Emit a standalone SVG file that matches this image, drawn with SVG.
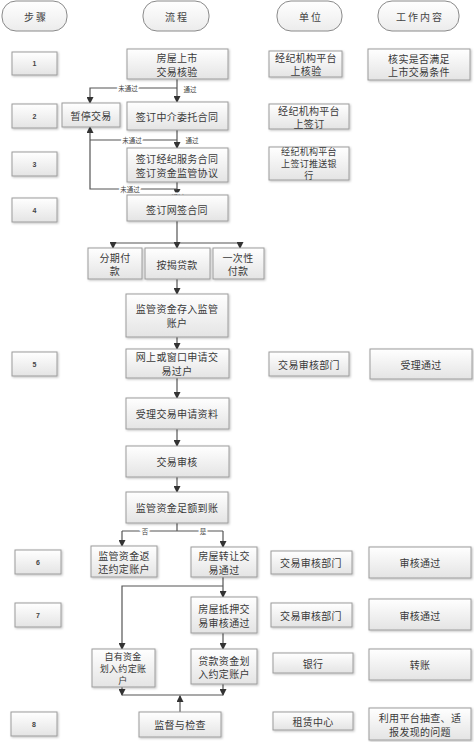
<svg xmlns="http://www.w3.org/2000/svg" width="474" height="742" viewBox="0 0 474 742">
<defs>
<linearGradient id="g" x1="0" y1="0" x2="0" y2="1"><stop offset="0" stop-color="#ffffff"/><stop offset="1" stop-color="#e4e4e4"/></linearGradient>
<linearGradient id="gp" x1="0" y1="0" x2="0" y2="1"><stop offset="0" stop-color="#ffffff"/><stop offset="1" stop-color="#ececec"/></linearGradient>
<filter id="sh" x="-10%" y="-10%" width="130%" height="140%"><feDropShadow dx="1" dy="1" stdDeviation="0.8" flood-color="#000" flood-opacity="0.25"/></filter>
<marker id="ar" markerWidth="7" markerHeight="7" refX="6" refY="3.5" orient="auto" markerUnits="userSpaceOnUse"><path d="M0,0 L7,3.5 L0,7 Z" fill="#333"/></marker>
</defs>
<style>
.b{fill:url(#g);stroke:#9c9c9c;stroke-width:1;filter:url(#sh)}
.p{fill:url(#gp);stroke:#8a8a8a;stroke-width:1}
.t{font-family:"Noto Sans CJK SC","Noto Sans",sans-serif;font-size:10px;letter-spacing:0.3px;fill:#3a3a3a;text-anchor:middle;dominant-baseline:central}
.t9{font-size:9px}
.s{font-family:"Liberation Sans",sans-serif;font-size:7px;font-weight:bold;fill:#444;text-anchor:middle;dominant-baseline:central}
.h{font-family:"Noto Sans CJK SC",sans-serif;font-size:10px;fill:#444;text-anchor:middle;dominant-baseline:central;letter-spacing:2px}
.l{font-family:"Noto Sans CJK SC",sans-serif;font-size:6.5px;fill:#444;text-anchor:middle;dominant-baseline:central;paint-order:stroke;stroke:#fff;stroke-width:3px}
.c{fill:none;stroke:#555;stroke-width:1.2}
.a{marker-end:url(#ar)}
</style>
<g id="headers">
<rect class="p" x="2" y="1" width="65" height="30" rx="14"/><text class="h" x="36" y="16">步骤</text>
<rect class="p" x="143" y="1" width="66" height="30" rx="14"/><text class="h" x="177" y="16">流程</text>
<rect class="p" x="277" y="1" width="65" height="30" rx="14"/><text class="h" x="311" y="16">单位</text>
<rect class="p" x="378" y="1" width="81" height="30" rx="14"/><text class="h" x="420" y="16">工作内容</text>
</g>
<g id="connectors">
<path class="c a" d="M177,79 V102"/>
<path class="c a" d="M177,88 H90 V103"/>
<path class="c a" d="M177,130 V148"/>
<path class="c" d="M177,140 H90"/>
<path class="c a" d="M177,182 V195"/>
<path class="c a" d="M177,189 H90 V127"/>
<path class="c" d="M177,221 V243 M113,243 H240"/>
<path class="c a" d="M113,243 V248"/>
<path class="c a" d="M177,243 V248"/>
<path class="c a" d="M240,243 V248"/>
<path class="c a" d="M177,279 V294"/>
<path class="c a" d="M177,337 V349"/>
<path class="c a" d="M177,378 V398"/>
<path class="c a" d="M177,429 V446"/>
<path class="c a" d="M177,477 V492"/>
<path class="c" d="M177,523 V531 M122,531 H223"/>
<path class="c a" d="M122,531 V546"/>
<path class="c a" d="M223,531 V547"/>
<path class="c a" d="M223,577 V597"/>
<path class="c a" d="M223,586 H122 V649"/>
<path class="c a" d="M223,633 V649"/>
<path class="c a" d="M122,687 V695"/>
<path class="c a" d="M223,684 V695"/>
<path class="c" d="M122,695 H223"/>
<path class="c a" d="M180,712 V696"/>
<text class="l" x="128" y="88">未通过</text><text class="l" x="190" y="89">通过</text>
<text class="l" x="132" y="140">未通过</text><text class="l" x="192" y="140">通过</text>
<text class="l" x="130" y="189">未通过</text><text class="l" x="178" y="197">通过</text>
<text class="l" x="145" y="531">否</text><text class="l" x="203" y="531">是</text>
</g>
<g id="step1"><rect class="b" x="12" y="52" width="45" height="23"/><text class="s" x="34.5" y="63.5">1</text></g>
<g id="step2"><rect class="b" x="12" y="104" width="45" height="24"/><text class="s" x="34.5" y="116">2</text></g>
<g id="step3"><rect class="b" x="12" y="152" width="45" height="24"/><text class="s" x="34.5" y="164">3</text></g>
<g id="step4"><rect class="b" x="12" y="198" width="45" height="24"/><text class="s" x="34.5" y="210">4</text></g>
<g id="step5"><rect class="b" x="12" y="352" width="45" height="24"/><text class="s" x="34.5" y="364">5</text></g>
<g id="step6"><rect class="b" x="15" y="550" width="46" height="24"/><text class="s" x="38" y="562">6</text></g>
<g id="step7"><rect class="b" x="15" y="603" width="46" height="24"/><text class="s" x="38" y="615">7</text></g>
<g id="step8"><rect class="b" x="11" y="712" width="46" height="24"/><text class="s" x="34" y="724">8</text></g>
<g id="n1"><rect class="b" x="127" y="49" width="101" height="30"/><text class="t" x="177" y="57.5">房屋上市</text><text class="t" x="177" y="71">交易核验</text></g>
<g id="pause"><rect class="b" x="62" y="103" width="58" height="24"/><text class="t" x="91" y="115">暂停交易</text></g>
<g id="n2"><rect class="b" x="127" y="102" width="101" height="28"/><text class="t" x="177" y="116">签订中介委托合同</text></g>
<g id="n3"><rect class="b" x="127" y="148" width="101" height="34"/><text class="t" x="177" y="158">签订经纪服务合同</text><text class="t" x="177" y="172">签订资金监管协议</text></g>
<g id="n4"><rect class="b" x="127" y="195" width="101" height="26"/><text class="t" x="177" y="209">签订网签合同</text></g>
<g id="p1"><rect class="b" x="88" y="248" width="54" height="31"/><text class="t" x="115" y="257">分期付</text><text class="t" x="115" y="270.5">款</text></g>
<g id="p2"><rect class="b" x="145" y="248" width="65" height="31"/><text class="t" x="177" y="264">按揭贷款</text></g>
<g id="p3"><rect class="b" x="213" y="248" width="51" height="31"/><text class="t" x="238" y="257">一次性</text><text class="t" x="238" y="270.5">付款</text></g>
<g id="n5"><rect class="b" x="126" y="294" width="102" height="43"/><text class="t" x="177" y="308">监管资金存入监管</text><text class="t" x="177" y="322">账户</text></g>
<g id="n6"><rect class="b" x="126" y="349" width="103" height="29"/><text class="t" x="177" y="356.5">网上或窗口申请交</text><text class="t" x="177" y="370">易过户</text></g>
<g id="n7"><rect class="b" x="126" y="398" width="103" height="31"/><text class="t" x="177" y="413">受理交易申请资料</text></g>
<g id="n8"><rect class="b" x="126" y="446" width="103" height="31"/><text class="t" x="177" y="461">交易审核</text></g>
<g id="n9"><rect class="b" x="126" y="492" width="102" height="31"/><text class="t" x="177" y="507">监管资金足额到账</text></g>
<g id="n10"><rect class="b" x="91" y="546" width="66" height="31"/><text class="t" x="124" y="555">监管资金返</text><text class="t" x="124" y="568.5">还约定账户</text></g>
<g id="n11"><rect class="b" x="191" y="547" width="66" height="30"/><text class="t" x="224" y="555">房屋转让交</text><text class="t" x="224" y="569">易通过</text></g>
<g id="n12"><rect class="b" x="191" y="597" width="66" height="36"/><text class="t" x="224" y="608">房屋抵押交</text><text class="t" x="224" y="622">易审核通过</text></g>
<g id="n13"><rect class="b" x="92" y="649" width="63" height="38"/><text class="t t9" x="123" y="656">自有资金</text><text class="t t9" x="123" y="668">划入约定账</text><text class="t t9" x="123" y="680">户</text></g>
<g id="n14"><rect class="b" x="191" y="649" width="66" height="35"/><text class="t" x="224" y="660">贷款资金划</text><text class="t" x="224" y="673.5">入约定账户</text></g>
<g id="n15"><rect class="b" x="139" y="712" width="82" height="25"/><text class="t" x="180" y="724">监督与检查</text></g>
<g id="u1"><rect class="b" x="269" y="51" width="73" height="26"/><text class="t" x="306" y="57">经纪机构平台</text><text class="t" x="306" y="70.5">上核验</text></g>
<g id="u2"><rect class="b" x="269" y="104" width="80" height="25"/><text class="t" x="309" y="110">经纪机构平台</text><text class="t" x="309" y="123.5">上签订</text></g>
<g id="u3"><rect class="b" x="269" y="147" width="80" height="33"/><text class="t t9" x="309" y="151">经纪机构平台</text><text class="t t9" x="309" y="163">上签订推送银</text><text class="t t9" x="309" y="175">行</text></g>
<g id="u5"><rect class="b" x="269" y="352" width="80" height="24"/><text class="t" x="309" y="364">交易审核部门</text></g>
<g id="u6"><rect class="b" x="271" y="551" width="81" height="23"/><text class="t" x="311" y="562">交易审核部门</text></g>
<g id="u7"><rect class="b" x="271" y="603" width="81" height="24"/><text class="t" x="311" y="615">交易审核部门</text></g>
<g id="u_bank"><rect class="b" x="273" y="653" width="80" height="20"/><text class="t" x="313" y="663">银行</text></g>
<g id="u8"><rect class="b" x="273" y="712" width="80" height="18"/><text class="t" x="313" y="721">租赁中心</text></g>
<g id="w1"><rect class="b" x="368" y="49" width="102" height="31"/><text class="t" x="419" y="58">核实是否满足</text><text class="t" x="419" y="71.5">上市交易条件</text></g>
<g id="w5"><rect class="b" x="370" y="349" width="102" height="30"/><text class="t" x="421" y="364">受理通过</text></g>
<g id="w6"><rect class="b" x="369" y="547" width="102" height="31"/><text class="t" x="420" y="562">审核通过</text></g>
<g id="w7"><rect class="b" x="369" y="599" width="102" height="31"/><text class="t" x="420" y="615">审核通过</text></g>
<g id="w_bank"><rect class="b" x="369" y="649" width="102" height="31"/><text class="t" x="420" y="664">转账</text></g>
<g id="w8"><rect class="b" x="369" y="708" width="102" height="32"/><text class="t" x="420" y="717">利用平台抽查、适</text><text class="t" x="420" y="731">报发现的问题</text></g>
</svg>
